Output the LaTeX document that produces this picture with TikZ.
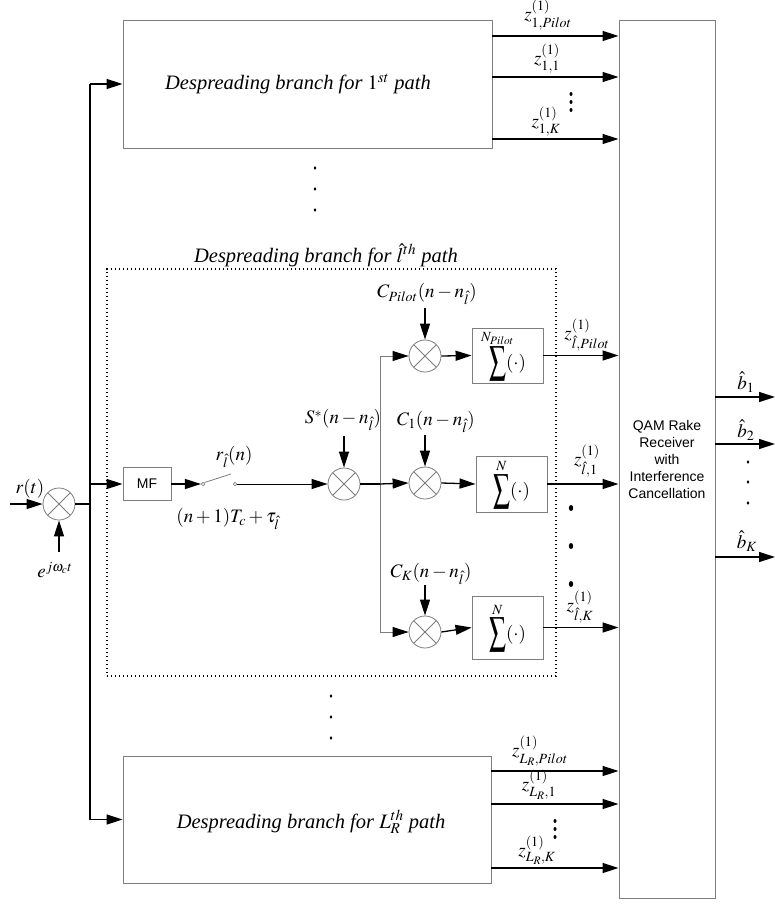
\documentclass[tikz,border=0pt]{standalone}
\usepackage{mathptmx}
\usepackage{fontspec}
\setmainfont{Liberation Serif}
\newfontfamily\arialf{Liberation Sans}
\usetikzlibrary{arrows.meta}
\definecolor{bgray}{RGB}{125,125,125}
\newcommand{\tightmath}{\medmuskip=2.5mu\relax\thinmuskip=1mu\relax}
\newcommand{\bigsig}{\mathop{\vcenter{\hbox{\resizebox{17pt}{27pt}{$\sum$}}}}\limits}
\newcommand{\zerow}[1]{\makebox[0pt]{$\scriptstyle #1$}}
\tikzset{
  gbox/.style={draw=bgray, line width=0.9pt, rectangle, inner sep=0pt},
  mix/.style={circle, draw=bgray, line width=0.8pt, minimum size=32pt, inner sep=0pt,
    path picture={\draw[bgray, line width=0.8pt]
      (path picture bounding box.north west) -- (path picture bounding box.south east)
      (path picture bounding box.north east) -- (path picture bounding box.south west);}},
  arr/.style={-{Triangle[length=16pt,width=10pt]}, line width=1.3pt},
  garr/.style={-{Triangle[length=16pt,width=10pt,color=black]}, draw=bgray, line width=0.8pt},
  wire/.style={line width=1.3pt},
  gwire/.style={draw=bgray, line width=0.8pt},
  lbl/.style={font=\fontsize{19}{23}\selectfont\tightmath, inner sep=0pt},
  itx/.style={font=\fontsize{20.5}{24}\selectfont\itshape, inner sep=0pt},
  sans/.style={font=\arialf\fontsize{14}{17}\selectfont},
  contact/.style={circle, draw=bgray, line width=0.7pt, minimum size=3.5pt, inner sep=0pt}
}
\begin{document}
\begin{tikzpicture}[x=1pt,y=-1pt]
\useasboundingbox (0,0) rectangle (775,904);

% big branch boxes
\node[gbox, minimum width=369pt, minimum height=128pt] (b1) at (307.5,84) {};
\node[itx] (t1) at (298,84) {Despreading branch for $1^{st}$ path};
\node[gbox, minimum width=368pt, minimum height=127pt] (bL) at (307,819.5) {};
\node[itx] (tL) at (311,822) {Despreading branch for $L_R^{th}$ path};

% QAM receiver
\node[gbox, minimum width=96pt, minimum height=878pt, align=center, sans] (qam) at (667,459)
  {QAM Rake\\Receiver\\with\\Interference\\Cancellation};

% dotted branch box
\node[draw, dash pattern=on 1.4pt off 2.6pt, line width=1.4pt, minimum width=449pt, minimum height=407pt] (db) at (331.5,472.5) {};
\node[itx] (tD) at (326,255) {Despreading branch for $\hat{l}^{th}$ path};

% input mixer
\coordinate (rin) at (10,504);
\node[mix] (m0) at (59,504) {};
\node[lbl] (rt) at (30,489) {$r(t)$};
\node[lbl] (ej) at (55,570) {$e^{j\omega_c t}$};
\coordinate (ejt) at (59,552);
\draw[arr] (rin) -- (m0.west);
\draw[arr] (ejt) -- (m0.south);

% bus
\coordinate (j0) at (90,504);
\coordinate (bt) at (90,84);
\coordinate (bb) at (90,819.5);
\draw[wire] (m0.east) -- (j0);
\draw[wire] (bt) -- (bb);
\draw[arr] (bt) -- (b1.west);
\draw[arr] (bb) -- (bL.west);

% MF and switch
\node[gbox, minimum width=48pt, minimum height=33pt, sans] (mf) at (147,484) {MF};
\draw[arr] (bt |- mf.west) -- (mf.west);
\node[contact] (sw1) at (203,484) {};
\node[contact] (sw2) at (235,484) {};
\coordinate (lev) at (231,474);
\draw[arr] (mf.east) -- (sw1.west);
\draw[gwire] (sw1.north east) -- (lev);
\node[lbl] (rl) at (234,457) {$r_{\hat l}(n)$};
\node[lbl] (tc) at (228,519) {$(n+1)T_c+\tau_{\hat l}$};

% spreading mixer
\node[mix] (m2) at (344,484) {};
\draw[-{Triangle[length=16pt,width=10pt]}, line width=1pt] (sw2.east) -- (m2.west);
\node[lbl] (sl) at (343,420) {$S^*(n-n_{\hat l})$};
\coordinate (sa) at (344,436);
\draw[arr] (sa) -- (m2.north);

% junction
\coordinate (jn) at (380,484);
\coordinate (jP) at (380,356);
\coordinate (jK) at (380,632);
\draw[wire] (m2.east) -- (jn);
\draw[gwire] (jP) -- (jK);

% code mixers
\node[mix] (mP) at (425,356) {};
\node[mix] (m1) at (425,483) {};
\node[mix] (mK) at (425,632) {};
\draw[garr] (jP) -- (mP.west);
\draw[arr] (jn) -- (m1.west);
\draw[garr] (jK) -- (mK.west);

\node[lbl] (cP) at (427,294) {$C_{Pilot}(n-n_{\hat l})$};
\node[lbl] (c1) at (436,422) {$C_1(n-n_{\hat l})$};
\node[lbl] (cK) at (431,574) {$C_K(n-n_{\hat l})$};
\coordinate (cPa) at (425,308);
\coordinate (c1a) at (425,435);
\coordinate (cKa) at (425,585);
\draw[arr] (cPa) -- (mP.north);
\draw[arr] (c1a) -- (m1.north);
\draw[arr] (cKa) -- (mK.north);

% summation boxes
\node[gbox, lbl, minimum width=71pt, minimum height=55pt] (sP) at (507.5,355.5) {$\bigsig^{\zerow{N_{Pilot}}}(\cdot)$};
\node[gbox, lbl, minimum width=71pt, minimum height=56pt] (sO) at (511.5,484) {$\bigsig^{N}(\cdot)$};
\node[gbox, lbl, minimum width=71pt, minimum height=63pt] (sK) at (507.5,627.5) {$\bigsig^{N}(\cdot)$};
\draw[arr] (mP.east) -- (sP.west);
\draw[arr] (m1.east) -- (sO.west);
\draw[arr] (mK.east) -- (sK.west);

% outputs of middle branch
\draw[arr] (sP.east) -- (sP.east -| qam.west);
\draw[arr] (sO.east) -- (sO.east -| qam.west);
\draw[arr] (sK.east) -- (sK.east -| qam.west);
\node[lbl] (zlP) at (587,335) {$z^{(1)}_{\hat l,Pilot}$};
\node[lbl] (zl1) at (587,461) {$z^{(1)}_{\hat l,1}$};
\node[lbl] (zlK) at (580,607) {$z^{(1)}_{\hat l,K}$};
\foreach \yy in {508,546,584} \fill (571,\yy) ellipse (2.2pt and 3pt);

% outputs of top branch
\draw[arr] (b1.east |- 0,36) -- (qam.west |- 0,36);
\draw[arr] (b1.east |- 0,77) -- (qam.west |- 0,77);
\draw[arr] (b1.east |- 0,139) -- (qam.west |- 0,139);
\node[lbl] (z1P) at (548,15) {$z^{(1)}_{1,Pilot}$};
\node[lbl] (z11) at (547,59) {$z^{(1)}_{1,1}$};
\node[lbl] (z1K) at (546,122) {$z^{(1)}_{1,K}$};
\foreach \yy in {94,102,110} \fill (571,\yy) ellipse (1.5pt and 2pt);

% outputs of bottom branch
\draw[arr] (bL.east |- 0,771) -- (qam.west |- 0,771);
\draw[arr] (bL.east |- 0,804) -- (qam.west |- 0,804);
\draw[arr] (bL.east |- 0,868) -- (qam.west |- 0,868);
\node[lbl] (zLP) at (540,751) {$z^{(1)}_{L_R,Pilot}$};
\node[lbl] (zL1) at (539,785) {$z^{(1)}_{L_R,1}$};
\node[lbl] (zLK) at (537,850) {$z^{(1)}_{L_R,K}$};
\foreach \yy in {821,829,837} \fill (555,\yy) ellipse (1.5pt and 2pt);

% branch dots
\foreach \yy in {168,189,210} \fill (315,\yy) ellipse (1.3pt and 1.8pt);
\foreach \yy in {696,717,738} \fill (331,\yy) ellipse (1.3pt and 1.8pt);

% decision outputs
\coordinate (e1) at (775,397);
\coordinate (e2) at (775,444);
\coordinate (eK) at (775,557);
\draw[arr] (qam.east |- e1) -- (e1);
\draw[arr] (qam.east |- e2) -- (e2);
\draw[arr] (qam.east |- eK) -- (eK);
\node[lbl] (bh1) at (746,382) {$\hat b_1$};
\node[lbl] (bh2) at (746,430) {$\hat b_2$};
\node[lbl] (bhK) at (747,541) {$\hat b_K$};
\foreach \yy in {462,482,503} \fill (748,\yy) ellipse (1.3pt and 1.8pt);
\end{tikzpicture}
\end{document}
